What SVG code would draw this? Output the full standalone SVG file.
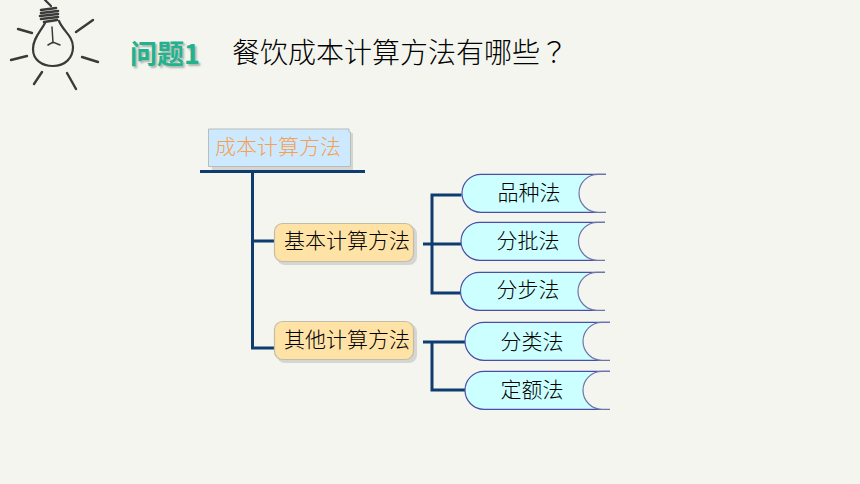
<svg xmlns="http://www.w3.org/2000/svg" width="860" height="484" viewBox="0 0 860 484">
<defs><style>
text{font-family:"Noto Sans CJK SC","Liberation Serif",serif;text-anchor:middle;fill:#000}
.t{font-size:21px;font-weight:300}
.l{font-size:21px;font-weight:300}
.c{fill:none;stroke:#0f3c70;stroke-width:3}
.pill{fill:#ccffff;stroke:#4d4da6;stroke-width:1.2}
.notch{fill:#f4f5ee;stroke:#6d74ad;stroke-width:1.2}
.b{fill:#ffe3a6;stroke:#c2bda8;stroke-width:1.2}
.s{fill:#d5d5d2}
.bulb{fill:none;stroke:#3a3a38;stroke-linecap:round}
</style></defs>
<rect width="860" height="484" fill="#f4f5ee"/>
<g id="bulb" class="bulb">
<path stroke-width="2.2" d="M45 0L51 6M45 23C41 31 33 38 33 49C33 60 42 66 53 66C65 66 73 58 73 47C73 36 63 31 59 21"/>
<path stroke-width="2.6" d="M41 10L56 8M41 13L58 11M40 16L58 14M41 19L58 17M44 22L57 20"/>
<path stroke-width="1.5" d="M52 27L53 43M48 45L53 42L60 45"/>
<path stroke-width="2.4" d="M18 29L32 33M76 32L93 20M11 60L27 56M82 57L98 62M34 84L42 72M67 73L76 89"/>
</g>
<g id="heading">
<text x="165" y="64" style="font-size:27px;font-weight:700;fill:#22b28e;text-shadow:2px 2px 2px #a9b5ae">问题1</text>
<text x="232" y="63" style="font-size:28px;font-weight:300;text-anchor:start">餐饮成本计算方法有哪些<tspan style="font-family:'Noto Sans CJK TC',sans-serif">？</tspan></text>
</g>
<g id="connectors">
<path class="c" d="M200 171.500H365M252.500 171V348H275M252.500 241H275"/>
<path class="c" d="M423 244H461M461.500 195H432V293H461"/>
<path class="c" d="M423 342H465M432 342V390H465"/>
</g>
<g id="root">
<path class="s" d="M212 133H353V170H212Z"/>
<path d="M208.500 129H349V132H350.500V166.500H208.500Z" fill="#cce9ff" stroke="#b9bdb8" stroke-width="1"/>
<text x="278" y="154" class="t" style="fill:#f5a050">成本计算方法</text>
</g>
<g id="basic">
<rect class="s" x="277" y="226" width="140" height="39" rx="8"/>
<rect class="b" x="274.500" y="223.500" width="139" height="38" rx="8"/>
<text x="347" y="248" class="t">基本计算方法</text>
</g>
<g id="other">
<rect class="s" x="277" y="324" width="140" height="39" rx="8"/>
<rect class="b" x="274.500" y="321.500" width="139" height="38" rx="8"/>
<text x="347" y="347" class="t">其他计算方法</text>
</g>
<g id="m1">
<path class="pill" d="M606 174.300H481A19 19 0 0 0 481 212.300H606"/>
<path class="notch" d="M606 174.300H598A19 19 0 0 0 598 212.300H606"/>
<text x="529" y="200" class="l">品种法</text>
</g>
<g id="m2">
<path class="pill" d="M605 222.300H480A19 19 0 0 0 480 260.300H605"/>
<path class="notch" d="M605 222.300H597.500A19 19 0 0 0 597.500 260.300H605"/>
<text x="528" y="248" class="l">分批法</text>
</g>
<g id="m3">
<path class="pill" d="M605 272.300H479.500A19 19 0 0 0 479.500 310.300H605"/>
<path class="notch" d="M605 272.300H597A19 19 0 0 0 597 310.300H605"/>
<text x="528" y="297" class="l">分步法</text>
</g>
<g id="m4">
<path class="pill" d="M610 322.300H484A19 19 0 0 0 484 360.300H610"/>
<path class="notch" d="M610 322.300H602A19 19 0 0 0 602 360.300H610"/>
<text x="532" y="349" class="l">分类法</text>
</g>
<g id="m5">
<path class="pill" d="M610 371.300H484A19 19 0 0 0 484 409.300H610"/>
<path class="notch" d="M610 371.300H602A19 19 0 0 0 602 409.300H610"/>
<text x="532" y="397" class="l">定额法</text>
</g>
</svg>
